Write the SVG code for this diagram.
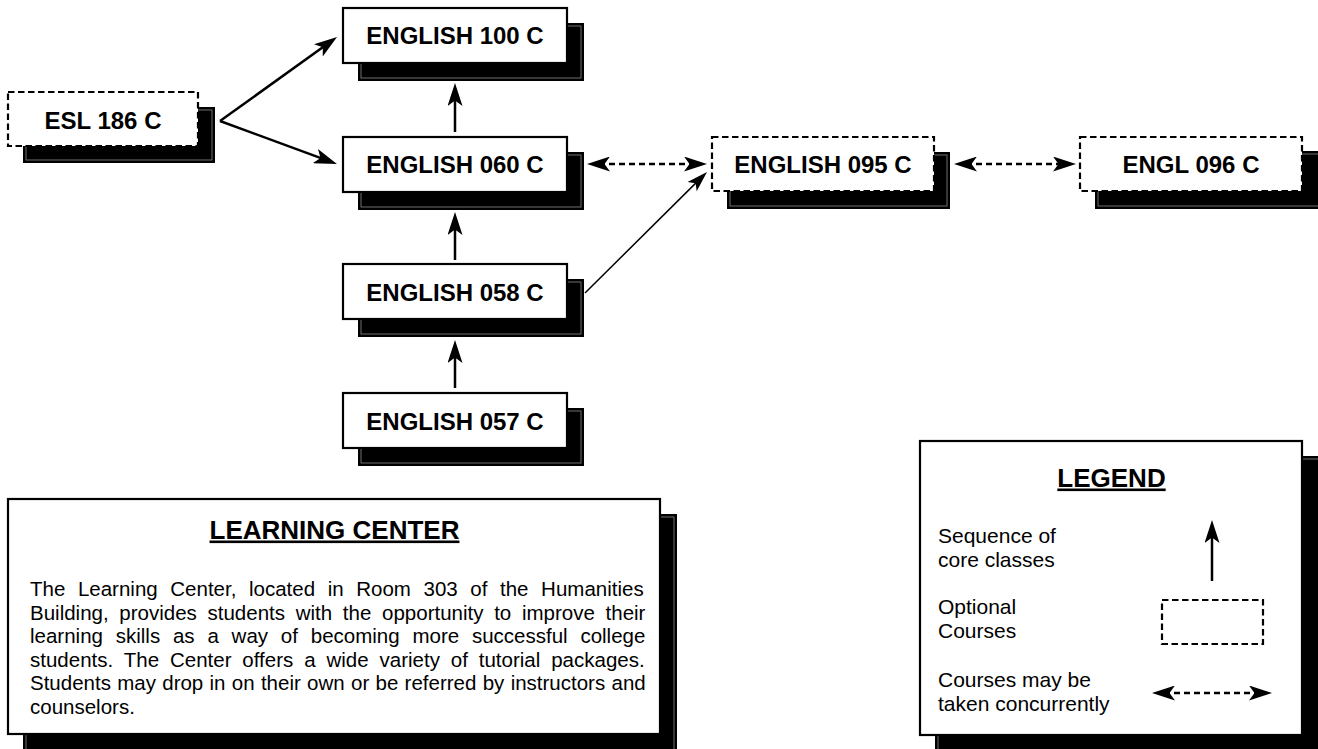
<svg xmlns="http://www.w3.org/2000/svg" width="1318" height="749" viewBox="0 0 1318 749">
<style>
.bg{fill:#ffffff}
.sh{fill:#000000;stroke:#000000;stroke-width:2}
.shl{fill:none;stroke:#8a8a8a;stroke-width:0.8}
.box{fill:#ffffff;stroke:#000000;stroke-width:2.2}
.dbox{fill:#ffffff;stroke:#000000;stroke-width:2.2;stroke-dasharray:6.5 3.5}
.lbl{font-family:"Liberation Sans",Arial,Helvetica,sans-serif;font-weight:bold;font-size:24px;fill:#000000;text-anchor:middle}
.ttl{font-family:"Liberation Sans",Arial,Helvetica,sans-serif;font-weight:bold;font-size:26px;fill:#000000;text-anchor:middle;text-decoration:underline}
.body{font-family:"Liberation Sans",Arial,Helvetica,sans-serif;font-size:20.5px;fill:#000000}
.leg{font-family:"Liberation Sans",Arial,Helvetica,sans-serif;font-size:21px;fill:#000000}
.ar{fill:none;stroke:#000000;stroke-width:2.5;marker-end:url(#ah)}
.art{fill:none;stroke:#000000;stroke-width:1.5;marker-end:url(#ahs)}
.dar{fill:none;stroke:#000000;stroke-width:2.5;stroke-dasharray:6 4;marker-start:url(#ah);marker-end:url(#ah)}
</style>
<defs>
<marker id="ah" viewBox="-23 -7.5 23 15" refX="-12" refY="0" markerWidth="23" markerHeight="15" markerUnits="userSpaceOnUse" orient="auto-start-reverse">
<path d="M0,0 L-23,-7.5 L-17.5,0 L-23,7.5 Z" fill="#000000"/>
</marker>
<marker id="ahs" viewBox="-22 -7 22 14" refX="-12" refY="0" markerWidth="22" markerHeight="14" markerUnits="userSpaceOnUse" orient="auto">
<path d="M0,0 L-21,-6.5 L-16,0 L-21,6.5 Z" fill="#000000"/>
</marker>
</defs>
<rect class="bg" x="0" y="0" width="1318" height="749"/>

<g id="node-esl186">
<rect class="sh" x="24" y="108" width="190" height="54"/>
<rect class="shl" x="26" y="110" width="186" height="50"/>
<rect class="dbox" x="8" y="92" width="190" height="54"/>
<text class="lbl" x="103" y="129">ESL 186 C</text>
</g>

<g id="node-english100">
<rect class="sh" x="359" y="24" width="224" height="56"/>
<rect class="shl" x="361" y="26" width="220" height="52"/>
<rect class="box" x="343" y="8" width="224" height="55"/>
<text class="lbl" x="455" y="44">ENGLISH 100 C</text>
</g>

<g id="node-english060">
<rect class="sh" x="359" y="153" width="224" height="56"/>
<rect class="shl" x="361" y="155" width="220" height="52"/>
<rect class="box" x="343" y="137" width="224" height="55"/>
<text class="lbl" x="455" y="173">ENGLISH 060 C</text>
</g>

<g id="node-english058">
<rect class="sh" x="359" y="280" width="224" height="56"/>
<rect class="shl" x="361" y="282" width="220" height="52"/>
<rect class="box" x="343" y="264" width="224" height="55"/>
<text class="lbl" x="455" y="301">ENGLISH 058 C</text>
</g>

<g id="node-english057">
<rect class="sh" x="359" y="409" width="224" height="56"/>
<rect class="shl" x="361" y="411" width="220" height="52"/>
<rect class="box" x="343" y="393" width="224" height="55"/>
<text class="lbl" x="455" y="430">ENGLISH 057 C</text>
</g>

<g id="node-english095">
<rect class="sh" x="728" y="153" width="221" height="55"/>
<rect class="shl" x="730" y="155" width="217" height="51"/>
<rect class="dbox" x="712" y="137" width="222" height="54"/>
<text class="lbl" x="823" y="173">ENGLISH 095 C</text>
</g>

<g id="node-engl096">
<rect class="sh" x="1096" y="152" width="224" height="56"/>
<rect class="shl" x="1098" y="154" width="222" height="52"/>
<rect class="dbox" x="1080" y="137" width="222" height="54"/>
<text class="lbl" x="1191" y="173">ENGL 096 C</text>
</g>

<g id="connectors">
<line class="ar" x1="220" y1="121" x2="327.3" y2="44"/>
<line class="ar" x1="220" y1="121" x2="325.7" y2="159.9"/>
<line class="ar" x1="455" y1="132" x2="455" y2="95"/>
<line class="ar" x1="455" y1="260" x2="455" y2="224"/>
<line class="ar" x1="455" y1="388" x2="455" y2="352"/>
<line class="art" x1="585" y1="293" x2="698.5" y2="180.4"/>
<line class="dar" x1="599" y1="164" x2="695" y2="164"/>
<line class="dar" x1="966" y1="164" x2="1064" y2="164"/>
</g>

<g id="learning-center">
<rect class="sh" x="24" y="515" width="652" height="240"/>
<rect class="shl" x="26" y="517" width="648" height="240"/>
<rect class="box" x="8" y="499" width="652" height="235"/>
<text class="ttl" x="334.5" y="538.5">LEARNING CENTER</text>
<text class="body" x="30" y="596" word-spacing="6.9">The Learning Center, located in Room 303 of the Humanities</text>
<text class="body" x="30" y="620" word-spacing="5">Building, provides students with the opportunity to improve their</text>
<text class="body" x="30" y="643" word-spacing="7.1">learning skills as a way of becoming more successful college</text>
<text class="body" x="30" y="667" word-spacing="5.2">students. The Center offers a wide variety of tutorial packages.</text>
<text class="body" x="30" y="690" word-spacing="0.6">Students may drop in on their own or be referred by instructors and</text>
<text class="body" x="30" y="714">counselors.</text>
</g>

<g id="legend">
<rect class="sh" x="936" y="457" width="384" height="300"/>
<rect class="shl" x="938" y="459" width="384" height="300"/>
<rect class="box" x="920" y="441" width="382" height="294"/>
<text class="ttl" x="1111.5" y="486.5">LEGEND</text>
<text class="leg" x="938" y="542.5">Sequence of</text>
<text class="leg" x="938" y="566.5">core classes</text>
<text class="leg" x="938" y="614">Optional</text>
<text class="leg" x="938" y="638">Courses</text>
<text class="leg" x="938" y="686.5">Courses may be</text>
<text class="leg" x="938" y="710.5">taken concurrently</text>
<line class="ar" x1="1212" y1="581" x2="1212" y2="532"/>
<rect class="dbox" x="1162" y="600" width="101" height="44"/>
<line class="dar" x1="1164" y1="693" x2="1260" y2="693"/>
</g>
</svg>
